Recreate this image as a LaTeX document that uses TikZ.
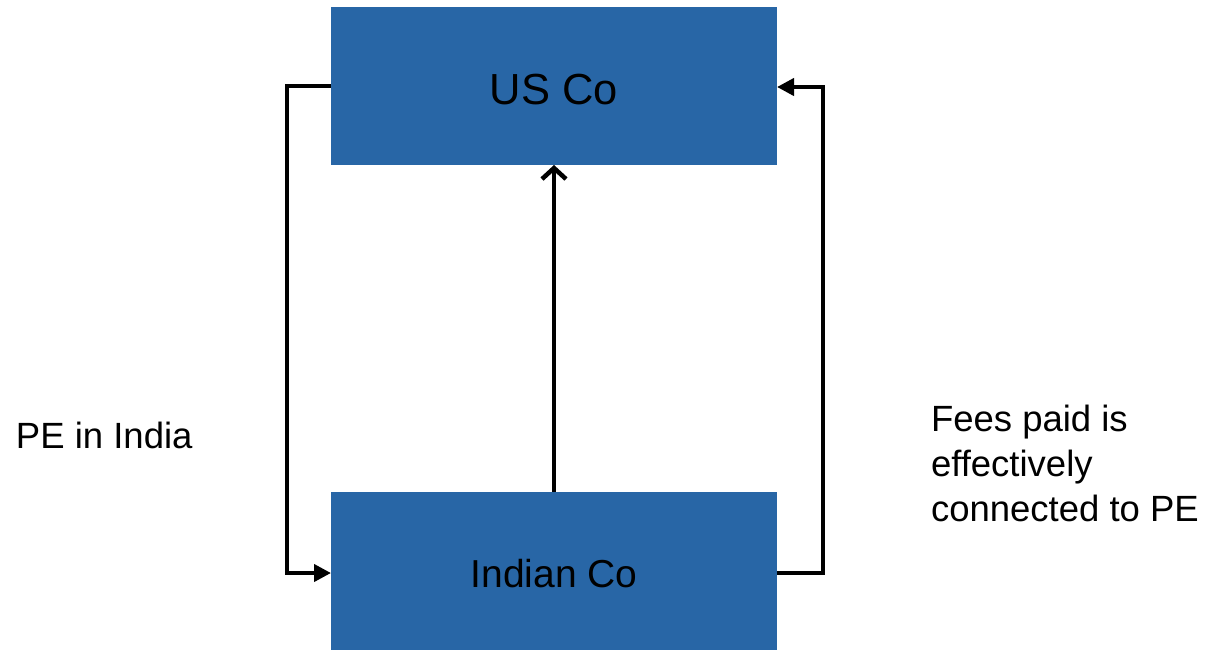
\documentclass[tikz,border=0pt]{standalone}
\usepackage{fontspec}
\setmainfont{Liberation Sans}
\usetikzlibrary{arrows.meta}
\definecolor{boxblue}{RGB}{40,102,166}
\begin{document}
\begin{tikzpicture}[x=1pt,y=-1pt,
  box/.style={fill=boxblue,draw=none,minimum width=446pt,minimum height=158pt,inner sep=0pt,outer sep=0pt},
  conn/.style={line width=4pt,draw=black},
  lbl/.style={inner sep=0pt,outer sep=0pt,anchor=base west,align=left,font=\fontsize{36.5}{45}\selectfont}]
\useasboundingbox (0,0) rectangle (1208,651);
\node[box] (us) at (554,86) {};
\node[box] (ind) at (554,571) {};
\node[inner sep=0pt,anchor=base,font=\fontsize{43.5}{50}\selectfont] (ustxt) at (554,104) {US Co};
\node[inner sep=0pt,anchor=base,font=\fontsize{39}{46}\selectfont] (indtxt) at (554,587) {Indian Co};
\node[lbl] (pe) at (16,448) {PE in India};
\node[lbl,anchor=north west] (fees) at (931,405) {Fees paid is\\effectively\\connected to PE};
\coordinate (l1) at (287,86);
\coordinate (l2) at (287,573);
\coordinate (r1) at (823,573);
\coordinate (r2) at (823,87);
\draw[conn,-{Triangle[length=17pt,width=17pt]}] (us.west |- l1) -- (l1) -- (l2) -- (ind.west |- l2);
\draw[conn,-{Triangle[length=17pt,width=17pt]}] (ind.east |- r1) -- (r1) -- (r2) -- (us.east |- r2);
\draw[conn,-{Straight Barb[length=11pt,width=24pt,line width=4.5pt]}] (ind.north) -- (us.south);
\end{tikzpicture}
\end{document}
